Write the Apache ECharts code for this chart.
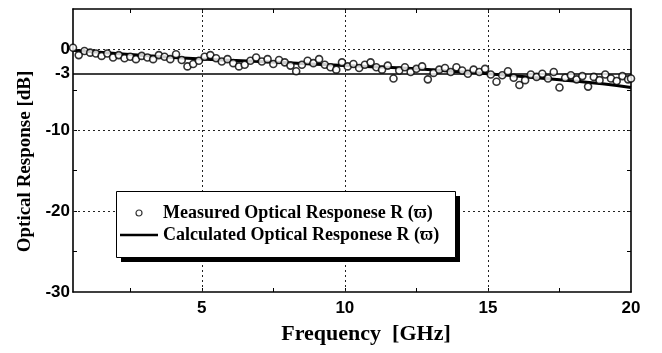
<!DOCTYPE html>
<html>
<head>
<meta charset="utf-8">
<script src="https://cdn.jsdelivr.net/npm/echarts@6/dist/echarts.min.js"></script>
<style>
html,body{margin:0;padding:0;background:#fff;}
#c{width:662px;height:353px;}
</style>
</head>
<body>
<div id="c"></div>
<script>
// ---- data ----
const freqMeas = [0.5,0.7,0.9,1.1,1.3,1.5,1.7,1.9,2.1,2.3,2.5,2.7,2.9,3.1,3.3,3.5,3.7,3.9,4.1,4.3,4.5,4.7,4.9,5.1,5.3,5.5,5.7,5.9,6.1,6.3,6.5,6.7,6.9,7.1,7.3,7.5,7.7,7.9,8.1,8.3,8.5,8.7,8.9,9.1,9.3,9.5,9.7,9.9,10.1,10.3,10.5,10.7,10.9,11.1,11.3,11.5,11.7,11.9,12.1,12.3,12.5,12.7,12.9,13.1,13.3,13.5,13.7,13.9,14.1,14.3,14.5,14.7,14.9,15.1,15.3,15.5,15.7,15.9,16.1,16.3,16.5,16.7,16.9,17.1,17.3,17.5,17.7,17.9,18.1,18.3,18.5,18.7,18.9,19.1,19.3,19.5,19.7,19.9,20.0];
const measured = [0.2,-0.7,-0.2,-0.4,-0.5,-0.8,-0.5,-1.0,-0.7,-1.1,-0.9,-1.2,-0.8,-1.0,-1.2,-0.7,-0.9,-1.2,-0.6,-1.3,-2.1,-1.8,-1.4,-0.9,-0.7,-1.1,-1.5,-1.2,-1.7,-2.1,-1.9,-1.4,-1.0,-1.5,-1.2,-1.8,-1.3,-1.6,-2.0,-2.7,-1.9,-1.4,-1.7,-1.2,-1.9,-2.2,-2.5,-1.6,-2.1,-1.8,-2.3,-1.9,-1.6,-2.2,-2.5,-2.0,-3.6,-2.6,-2.2,-2.8,-2.4,-2.1,-3.7,-2.9,-2.5,-2.3,-2.8,-2.2,-2.6,-3.0,-2.5,-2.8,-2.4,-3.1,-4.0,-3.2,-2.7,-3.5,-4.4,-3.8,-3.1,-3.4,-3.0,-3.6,-2.8,-4.7,-3.5,-3.2,-3.7,-3.3,-4.6,-3.4,-3.8,-3.1,-3.6,-3.9,-3.3,-3.7,-3.6];
const freqCalc = [0.5,2,4,6,8,10,12,14,15,16,17,18,19,20];
const calculated = [-0.1,-0.5,-1.0,-1.35,-1.65,-2.0,-2.3,-2.75,-3.0,-3.3,-3.6,-3.9,-4.25,-4.7];
const xLabelVals = [5,10,15,20];
const xTickVals = [2.5,5,7.5,10,12.5,15,17.5];
const yLabelVals = [-30,-20,-10,-3,0];
const yTickVals = [-25,-20,-15,-10,-5,0];
const gridX = [5,10,15];
const gridY = [0,-10,-20];
const refY = -3;
const measName = 'Measured Optical Responese R (\u03D6)';
const calcName = 'Calculated Optical Responese R (\u03D6)';

const serif = '"Liberation Serif","Times New Roman",serif';
const sans = '"Liberation Sans",Arial,sans-serif';
const chart = echarts.init(document.getElementById('c'), null, {renderer:'canvas'});

const dotted = {color:'#222', width:1, type:[2,3]};
const markData = []
  .concat(gridX.map(v => ({xAxis:v, lineStyle:dotted})))
  .concat(gridY.map(v => ({yAxis:v, lineStyle:dotted})))
  .concat([{yAxis:refY, lineStyle:{color:'#000', width:1.5, type:'solid'}}]);

const axisLine = {show:true, onZero:false, lineStyle:{color:'#000', width:1.6}};
const tick = (vals) => ({show:true, inside:true, length:4, customValues:vals, lineStyle:{color:'#000', width:1}});

chart.setOption({
  animation:false,
  backgroundColor:'#fff',
  grid:{left:73, right:31, top:9, bottom:61, containLabel:false},
  graphic:[
    {type:'rect', left:121, top:196, z:50, shape:{width:339, height:66}, style:{fill:'#000'}, silent:true},
    {type:'rect', left:116, top:191, z:51, shape:{width:339, height:66}, style:{fill:'#fff', stroke:'#000', lineWidth:1}, silent:true}
  ],
  xAxis:[
    {type:'value', position:'bottom', min:0.5, max:20,
     name:'Frequency  [GHz]', nameLocation:'middle', nameGap:31,
     nameTextStyle:{fontFamily:serif, fontWeight:'bold', fontSize:22, color:'#000', padding:[0,0,0,28]},
     axisLine:axisLine, axisTick:tick(xTickVals),
     axisLabel:{customValues:xLabelVals, margin:8, fontFamily:sans, fontWeight:'bold', fontSize:17, color:'#000'},
     splitLine:{show:false}},
    {type:'value', position:'top', min:0.5, max:20,
     axisLine:axisLine, axisTick:tick(xTickVals), axisLabel:{show:false}, splitLine:{show:false}}
  ],
  yAxis:[
    {type:'value', position:'left', min:-30, max:5,
     name:'Optical Response [dB]', nameLocation:'middle', nameGap:38, nameRotate:90,
     nameTextStyle:{fontFamily:serif, fontWeight:'bold', fontSize:19, color:'#000', padding:[0,22,0,0]},
     axisLine:axisLine, axisTick:tick(yTickVals),
     axisLabel:{customValues:yLabelVals, margin:3, fontFamily:sans, fontWeight:'bold', fontSize:17, color:'#000'},
     splitLine:{show:false}},
    {type:'value', position:'right', min:-30, max:5,
     axisLine:axisLine, axisTick:tick(yTickVals), axisLabel:{show:false}, splitLine:{show:false}}
  ],
  legend:{
    orient:'vertical', left:116, top:191, z:60,
    padding:[13,14,12,4], itemGap:4, itemWidth:38, itemHeight:6,
    backgroundColor:'transparent',
    symbolKeepAspect:true,
    textStyle:{fontFamily:serif, fontWeight:'bold', fontSize:18, color:'#000'},
    data:[
      {name:measName, icon:'circle', itemStyle:{color:'#fff', borderColor:'#000', borderWidth:1.2}},
      {name:calcName, icon:'path://M0,0L38,0L38,2.4L0,2.4Z', itemStyle:{color:'#000'}}
    ]
  },
  series:[
    {name:calcName, type:'line', xAxisIndex:0, yAxisIndex:0,
     data:freqCalc.map((f,i)=>[f, calculated[i]]),
     smooth:true, symbol:'none', z:3,
     lineStyle:{color:'#000', width:3}, itemStyle:{color:'#000'},
     markLine:{silent:true, symbol:'none', label:{show:false}, z:1, data:markData}},
    {name:measName, type:'scatter', xAxisIndex:0, yAxisIndex:0,
     data:freqMeas.map((f,i)=>[f, measured[i]]),
     symbol:'circle', symbolSize:7, z:4,
     itemStyle:{color:'#fff', borderColor:'#000', borderWidth:1.6}}
  ]
});
</script>
</body>
</html>
